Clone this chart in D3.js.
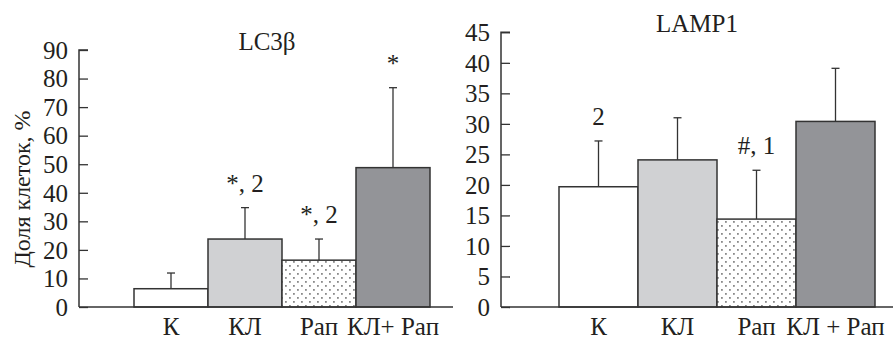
<!DOCTYPE html>
<html>
<head>
  <meta charset="utf-8">
  <style>
  body { margin: 0; background: #fff; }
  svg text { font-family: "Liberation Serif", "Times New Roman", serif !important; fill: #231f20; }
  </style>
  <script src="https://d3js.org/d3.v7.min.js"></script>
</head>
<body>
  <script>
  // groups, same for both panels
  var groupsLeft = ["К", "КЛ", "Рап", "КЛ+ Рап"];
  var groupsRight = ["К", "КЛ", "Рап", "КЛ + Рап"];

  // LC3b panel
  var lc3Means = [6.4, 23.8, 16.4, 48.8];
  var lc3Errors = [11.9, 34.8, 23.8, 76.8];
  var lc3Notes = ["", "*, 2", "*, 2", "*"];
  var lc3Ticks = [0, 10, 20, 30, 40, 50, 60, 70, 80, 90];

  // LAMP1 panel
  var lampMeans = [19.7, 24.1, 14.4, 30.4];
  var lampErrors = [27.2, 31.0, 22.4, 39.1];
  var lampNotes = ["2", "", "#, 1", ""];
  var lampTicks = [0, 5, 10, 15, 20, 25, 30, 35, 40, 45];

  var fills = ["#ffffff", "#d0d1d3", "url(#dots)", "#939498"];
  var serif = "'Liberation Serif', 'Times New Roman', serif";

  var svg = d3.select("body").append("svg")
      .attr("width", 893)
      .attr("height", 339);

  var pat = svg.append("defs").append("pattern")
      .attr("id", "dots")
      .attr("patternUnits", "userSpaceOnUse")
      .attr("width", 8)
      .attr("height", 8);
  pat.append("rect").attr("width", 8).attr("height", 8).attr("fill", "#fff");
  pat.append("rect").attr("x", 1).attr("y", 1).attr("width", 1.8).attr("height", 1.8).attr("fill", "#8a8a8a");
  pat.append("rect").attr("x", 5).attr("y", 5).attr("width", 1.8).attr("height", 1.8).attr("fill", "#8a8a8a");

  function panel(opt) {
    var g = svg.append("g");

    var y = d3.scaleLinear()
        .domain([0, opt.max])
        .range([307, opt.top]);

    var x = d3.scaleBand()
        .domain(opt.groups)
        .range(opt.bars)
        .padding(0);

    // error bars (upper half only)
    var eb = g.selectAll(".err")
        .data(opt.means)
        .enter().append("g");
    eb.append("line")
        .attr("x1", function(d, i) { return x(opt.groups[i]) + x.bandwidth() / 2; })
        .attr("x2", function(d, i) { return x(opt.groups[i]) + x.bandwidth() / 2; })
        .attr("y1", function(d) { return y(d); })
        .attr("y2", function(d, i) { return y(opt.errors[i]); })
        .attr("stroke", "#333").attr("stroke-width", 1.3);
    eb.append("line")
        .attr("x1", function(d, i) { return x(opt.groups[i]) + x.bandwidth() / 2 - 4; })
        .attr("x2", function(d, i) { return x(opt.groups[i]) + x.bandwidth() / 2 + 4; })
        .attr("y1", function(d, i) { return y(opt.errors[i]); })
        .attr("y2", function(d, i) { return y(opt.errors[i]); })
        .attr("stroke", "#333").attr("stroke-width", 1.3);

    g.selectAll(".bar")
        .data(opt.means)
        .enter().append("rect")
        .attr("x", function(d, i) { return x(opt.groups[i]); })
        .attr("y", function(d) { return y(d); })
        .attr("width", x.bandwidth())
        .attr("height", function(d) { return y(0) - y(d); })
        .attr("fill", function(d, i) { return fills[i]; })
        .attr("stroke", "#333")
        .attr("stroke-width", 1.5);

    // notes above error bars
    g.selectAll(".note")
        .data(opt.notes)
        .enter().append("text")
        .attr("x", function(d, i) { return x(opt.groups[i]) + x.bandwidth() / 2; })
        .attr("y", function(d, i) { return y(opt.errors[i]) - 16; })
        .attr("text-anchor", "middle")
        .style("font-family", serif)
        .style("font-size", "25px")
        .text(function(d) { return d; });

    // y axis, ticks inside
    var ya = g.append("g")
        .attr("transform", "translate(" + opt.axisX + ",0)")
        .call(d3.axisRight(y).tickValues(opt.ticks).tickSize(9).tickPadding(0));
    ya.attr("font-family", serif).attr("font-size", 25);
    ya.select(".domain").attr("stroke", "#333").attr("stroke-width", 1.5)
        .attr("d", "M9," + opt.top + "H0V307");
    ya.selectAll(".tick line").attr("stroke", "#333").attr("stroke-width", 1.3);
    ya.selectAll(".tick text")
        .attr("x", -11)
        .attr("dy", "0.33em")
        .attr("text-anchor", "end")
        .style("font-family", serif)
        .style("font-size", "25px")
        .attr("fill", "#231f20");

    // baseline
    g.append("line")
        .attr("x1", opt.axisX).attr("x2", opt.lineEnd)
        .attr("y1", y(0)).attr("y2", y(0))
        .attr("stroke", "#333").attr("stroke-width", 1.5);

    // x labels
    var xa = g.append("g")
        .attr("transform", "translate(0,307)")
        .call(d3.axisBottom(x).tickSize(0).tickPadding(0));
    xa.attr("font-family", serif).attr("font-size", 25);
    xa.select(".domain").remove();
    xa.selectAll(".tick text")
        .attr("y", 28)
        .attr("dy", 0)
        .style("font-family", serif)
        .style("font-size", "25px")
        .attr("fill", "#231f20");

    g.append("text")
        .attr("x", opt.titleX)
        .attr("y", opt.titleY)
        .attr("text-anchor", "middle")
        .style("font-family", serif)
        .style("font-size", "25px")
        .text(opt.title);
  }

  panel({
    title: "LC3β", titleX: 267, titleY: 50,
    groups: groupsLeft, means: lc3Means, errors: lc3Errors, notes: lc3Notes,
    ticks: lc3Ticks, max: 90, top: 50, bars: [134, 430], axisX: 79, lineEnd: 453
  });

  panel({
    title: "LAMP1", titleX: 697, titleY: 32,
    groups: groupsRight, means: lampMeans, errors: lampErrors, notes: lampNotes,
    ticks: lampTicks, max: 45, top: 32.3, bars: [559, 875], axisX: 501, lineEnd: 893
  });

  svg.append("text")
      .attr("transform", "translate(30,189) rotate(-90)")
      .attr("text-anchor", "middle")
      .style("font-family", serif)
      .style("font-size", "24px")
      .text("Доля клеток, %");
  </script>
</body>
</html>
